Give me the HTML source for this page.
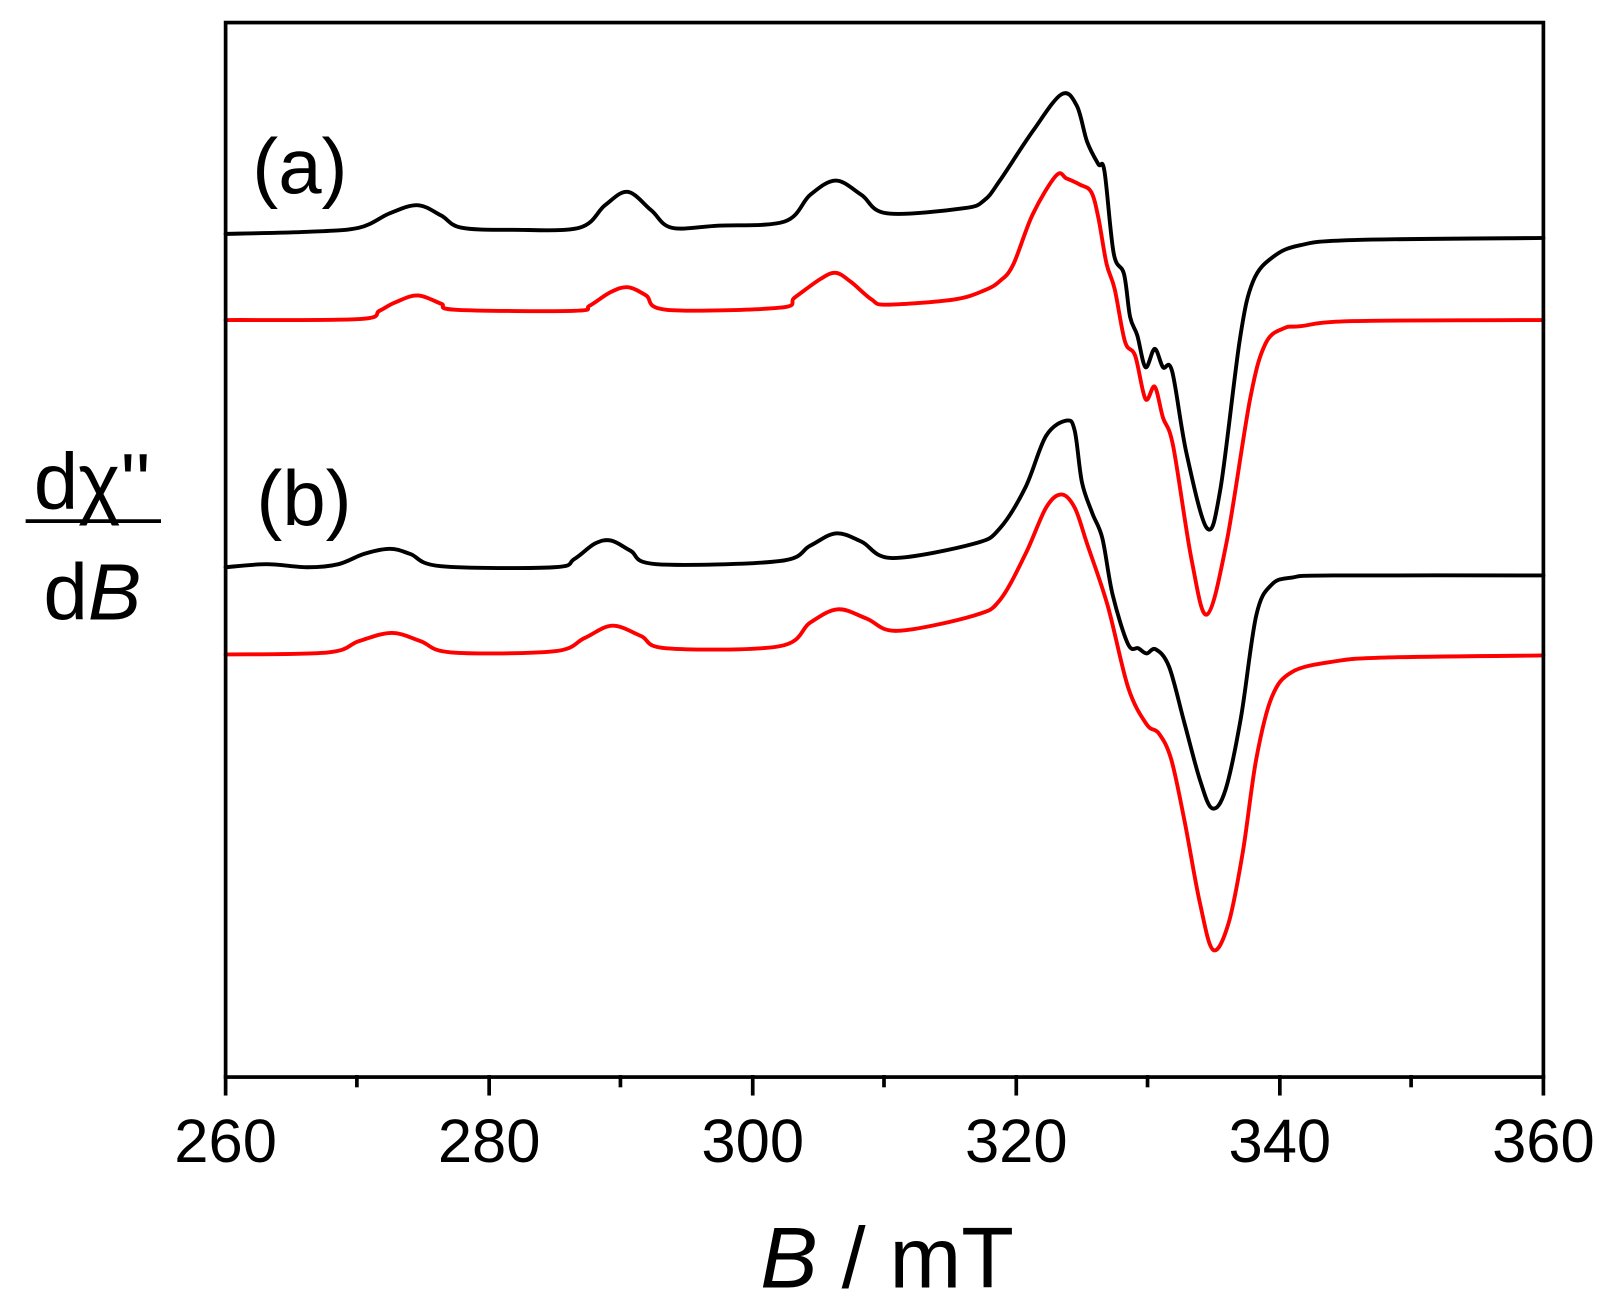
<!DOCTYPE html>
<html><head><meta charset="utf-8"><style>html,body{margin:0;padding:0;background:#fff}svg{display:block}</style></head>
<body>
<svg id="s" width="1608" height="1313" viewBox="0 0 1568 1280" preserveAspectRatio="none" xmlns="http://www.w3.org/2000/svg" font-family="Liberation Sans, sans-serif">
<rect width="1568" height="1280" fill="#fff"/>
<g fill="none" stroke-linejoin="round" stroke-linecap="round" stroke-width="3.8">
<polyline class="c" stroke="#000" points="220,228 300,226 350,222 380,208 407,200 430,210 450,222 500,224 565,222 590,200 612,187 635,205 655,222 700,220 765,216 790,190 815,176 840,190 865,208 940,203 960,195 975,176 1007,128 1035,92 1050,103 1060,138 1071,160 1077,167 1086,247 1096,267 1102,309 1109,327 1117,358 1126,340 1134,358 1143,362 1157,442 1177,515 1190,477 1209,331 1222,274 1242,250 1268,239 1320,234 1505,232"/>
<polyline class="c" stroke="#f00" points="220,312 350,311 370,303 385,295 407,288 430,296 445,302 560,303 575,298 595,285 612,280 630,288 650,302 760,300 775,290 800,272 815,266 830,275 850,292 865,297 930,292 960,283 975,274 988,258 1007,209 1030,171 1040,174 1053,180 1064,187 1071,212 1079,257 1087,282 1097,333 1107,347 1117,389 1126,377 1134,407 1144,435 1162,546 1177,599 1196,529 1219,389 1234,335 1252,320 1268,318 1320,313 1505,312"/>
<polyline class="c" stroke="#000" points="220,553 260,550 300,553 330,550 355,540 380,535 400,540 430,552 540,553 560,545 580,530 596,527 615,537 640,550 760,547 790,532 815,520 840,528 870,544 950,530 975,515 1000,475 1020,425 1040,410 1048,420 1055,470 1065,500 1075,525 1085,580 1100,628 1110,632 1118,637 1127,633 1140,650 1155,705 1170,760 1182,788 1195,770 1210,700 1225,600 1240,570 1260,563 1300,561 1505,561"/>
<polyline class="c" stroke="#f00" points="220,638 320,636 350,625 382,617 410,625 440,636 540,635 570,622 597,610 625,620 650,632 760,630 790,607 817,594 845,603 875,615 950,600 975,585 1000,540 1020,495 1035,482 1048,495 1060,530 1080,590 1100,670 1118,706 1130,715 1142,740 1155,800 1170,880 1183,926 1198,900 1212,830 1225,740 1240,680 1260,655 1300,645 1350,641 1505,639"/>
</g>
<rect x="220" y="22" width="1285" height="1028" fill="none" stroke="#000" stroke-width="3.6"/>
<g stroke="#000" stroke-width="3.6">
<line x1="220" y1="1048" x2="220" y2="1068"/><line x1="477" y1="1048" x2="477" y2="1068"/><line x1="734" y1="1048" x2="734" y2="1068"/><line x1="991" y1="1048" x2="991" y2="1068"/><line x1="1248" y1="1048" x2="1248" y2="1068"/><line x1="1505" y1="1048" x2="1505" y2="1068"/>
<line x1="348" y1="1048" x2="348" y2="1060"/><line x1="605" y1="1048" x2="605" y2="1060"/><line x1="862" y1="1048" x2="862" y2="1060"/><line x1="1119" y1="1048" x2="1119" y2="1060"/><line x1="1376" y1="1048" x2="1376" y2="1060"/>
</g>
<g font-size="60" text-anchor="middle" fill="#000">
<text x="220" y="1133">260</text><text x="477" y="1133">280</text><text x="734" y="1133">300</text><text x="991" y="1133">320</text><text x="1248" y="1133">340</text><text x="1505" y="1133">360</text>
</g>
<text x="865" y="1255" font-size="84" text-anchor="middle"><tspan font-style="italic">B</tspan> / mT</text>
<text x="246" y="188" font-size="76">(a)</text>
<text x="250" y="512" font-size="76">(b)</text>
<text x="90" y="496" font-size="78" text-anchor="middle">dχ''</text>
<line x1="25" y1="508" x2="157" y2="508" stroke="#000" stroke-width="3.6"/>
<text x="90" y="604" font-size="78" text-anchor="middle">d<tspan font-style="italic">B</tspan></text>
</svg>
<script>
document.querySelectorAll('polyline.c').forEach(function(pl){
var p=pl.getAttribute('points').trim().split(/\s+/).map(function(s){return s.split(',').map(Number);});
var d='M'+p[0][0]+','+p[0][1];
for(var i=0;i<p.length-1;i++){var p0=p[i-1]||p[i],p1=p[i],p2=p[i+1],p3=p[i+2]||p2;
var c1x=p1[0]+(p2[0]-p0[0])/6,c1y=p1[1]+(p2[1]-p0[1])/6,c2x=p2[0]-(p3[0]-p1[0])/6,c2y=p2[1]-(p3[1]-p1[1])/6;
d+=' C'+c1x.toFixed(1)+','+c1y.toFixed(1)+' '+c2x.toFixed(1)+','+c2y.toFixed(1)+' '+p2[0]+','+p2[1];}
var e=document.createElementNS('http://www.w3.org/2000/svg','path');e.setAttribute('d',d);e.setAttribute('stroke',pl.getAttribute('stroke'));
pl.parentNode.replaceChild(e,pl);});
</script>
</body></html>
